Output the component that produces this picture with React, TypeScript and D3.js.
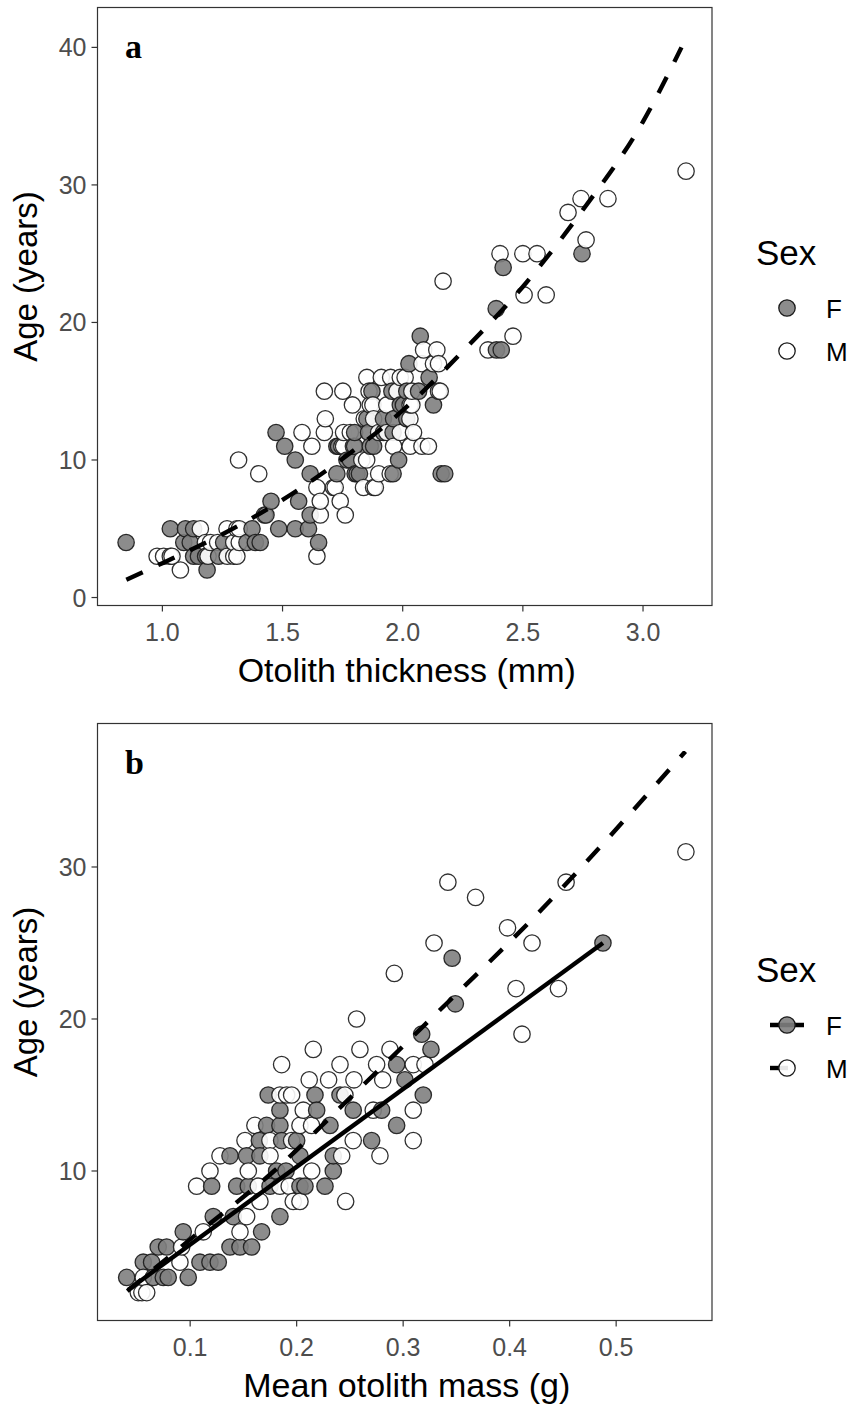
import React from "react";
import * as d3 from "d3";

// ---- data: otolith thickness (mm) vs age (years) ----
const femaleThicknessAge: [number, number][] = [
  [1.186, 2],
  [1.13, 3], [1.15, 3], [1.18, 3], [1.234, 3],
  [0.849, 4], [1.089, 4], [1.116, 4], [1.255, 4], [1.352, 4], [1.387, 4], [1.407, 4], [1.65, 4],
  [1.033, 5], [1.096, 5], [1.13, 5], [1.373, 5], [1.484, 5], [1.553, 5], [1.608, 5],
  [1.431, 6], [1.615, 6],
  [1.452, 7], [1.567, 7],
  [1.615, 9], [1.726, 9], [1.802, 9], [1.81, 9], [1.82, 9], [1.96, 9], [2.16, 9], [2.175, 9],
  [1.553, 10], [1.768, 10], [1.782, 10], [1.983, 10],
  [1.509, 11], [1.726, 11], [1.733, 11], [1.8, 11], [1.865, 11], [1.879, 11],
  [1.473, 12], [1.8, 12], [1.858, 12], [1.92, 12], [1.96, 12],
  [1.851, 13], [1.92, 13], [1.962, 13], [2.017, 13],
  [1.99, 14], [2.003, 14], [2.128, 14],
  [1.872, 15], [1.955, 15], [2.017, 15], [2.066, 15],
  [2.11, 16],
  [2.026, 17],
  [2.39, 18], [2.41, 18],
  [2.073, 19],
  [2.389, 21],
  [2.418, 24],
  [2.746, 25],
];

const maleThicknessAge: [number, number][] = [
  [1.075, 2],
  [0.978, 3], [1.005, 3], [1.033, 3], [1.04, 3], [1.19, 3], [1.27, 3], [1.297, 3], [1.31, 3], [1.643, 3],
  [1.179, 4], [1.2, 4], [1.23, 4], [1.297, 4], [1.32, 4],
  [1.158, 5], [1.269, 5], [1.31, 5], [1.32, 5],
  [1.425, 6], [1.657, 6], [1.761, 6],
  [1.657, 7], [1.74, 7],
  [1.643, 8], [1.712, 8], [1.719, 8], [1.837, 8], [1.879, 8], [1.886, 8],
  [1.401, 9], [1.9, 9], [1.948, 9],
  [1.317, 10], [1.83, 10], [1.85, 10],
  [1.622, 11], [1.747, 11], [1.754, 11], [1.795, 11], [1.962, 11], [2.031, 11], [2.08, 11], [2.107, 11],
  [1.581, 12], [1.674, 12], [1.754, 12], [1.782, 12], [1.9, 12], [1.934, 12], [1.99, 12], [2.045, 12],
  [1.678, 13], [1.84, 13], [1.879, 13], [2.03, 13],
  [1.791, 14], [1.865, 14], [1.876, 14], [1.934, 14], [2.031, 14], [2.038, 14],
  [1.674, 15], [1.751, 15], [1.86, 15], [1.976, 15], [2.038, 15], [2.149, 15], [2.156, 15],
  [1.851, 16], [1.911, 16], [1.95, 16], [1.99, 16], [2.01, 16],
  [2.08, 17], [2.128, 17], [2.149, 17],
  [2.087, 18], [2.142, 18], [2.355, 18],
  [2.459, 19],
  [2.505, 22], [2.597, 22],
  [2.168, 23],
  [2.405, 25], [2.5, 25], [2.559, 25],
  [2.763, 26],
  [2.688, 28],
  [2.742, 29], [2.854, 29],
  [3.179, 31],
];

// fitted age curve over thickness (both sexes)
const thicknessFit: [number, number][] = [
  [0.85, 1.3], [1.0, 2.5], [1.25, 4.6], [1.5, 7.1], [1.75, 10.1], [2.0, 13.6],
  [2.25, 17.9], [2.5, 22.6], [2.75, 28.2], [3.0, 34.6], [3.16, 40.0],
];

// ---- data: mean otolith mass (g) vs age (years) ----
const femaleMassAge: [number, number][] = [
  [0.0404, 3], [0.0654, 3], [0.0748, 3], [0.0794, 3], [0.0982, 3],
  [0.056, 4], [0.0638, 4], [0.1092, 4], [0.1186, 4], [0.1264, 4],
  [0.07, 5], [0.0779, 5], [0.1374, 5], [0.1468, 5], [0.1577, 5],
  [0.0935, 6], [0.1671, 6],
  [0.1217, 7], [0.1405, 7], [0.1843, 7],
  [0.1202, 9], [0.1437, 9], [0.1546, 9], [0.175, 9], [0.2031, 9], [0.2078, 9], [0.2266, 9],
  [0.1812, 10], [0.19, 10], [0.2344, 10],
  [0.1374, 11], [0.153, 11], [0.1655, 11], [0.2031, 11], [0.2344, 11],
  [0.165, 12], [0.1859, 12], [0.2, 12], [0.2704, 12],
  [0.1718, 13], [0.1843, 13], [0.2313, 13], [0.2939, 13],
  [0.1843, 14], [0.2188, 14], [0.2531, 14], [0.2798, 14],
  [0.1733, 15], [0.2172, 15], [0.2407, 15], [0.3189, 15],
  [0.3017, 16],
  [0.2939, 17],
  [0.3261, 18],
  [0.3174, 19],
  [0.349, 21],
  [0.346, 24],
  [0.4876, 25],
];

const maleMassAge: [number, number][] = [
  [0.0513, 2], [0.0547, 2], [0.0592, 2],
  [0.056, 3],
  [0.0904, 4],
  [0.092, 5],
  [0.1123, 6], [0.1468, 6],
  [0.153, 7],
  [0.1655, 8], [0.1968, 8], [0.2031, 8], [0.246, 8],
  [0.1061, 9], [0.164, 9], [0.1843, 9], [0.193, 9],
  [0.1186, 10], [0.1546, 10], [0.2141, 10],
  [0.128, 11], [0.175, 11], [0.2423, 11], [0.2782, 11],
  [0.1515, 12], [0.1749, 12], [0.1953, 12], [0.2531, 12], [0.3095, 12],
  [0.1608, 13], [0.2031, 13], [0.214, 13],
  [0.2062, 14], [0.2719, 14], [0.3095, 14],
  [0.1843, 15], [0.1906, 15], [0.1953, 15], [0.2453, 15],
  [0.2118, 16], [0.23, 16], [0.2538, 16], [0.2808, 16],
  [0.1859, 17], [0.2407, 17], [0.2751, 17], [0.3095, 17], [0.3205, 17],
  [0.2156, 18], [0.2594, 18], [0.2876, 18],
  [0.4116, 19],
  [0.2563, 20],
  [0.406, 22], [0.4458, 22],
  [0.2917, 23],
  [0.329, 25], [0.421, 25],
  [0.398, 26],
  [0.368, 28],
  [0.342, 29], [0.453, 29],
  [0.5655, 31],
];

// fitted age lines over mass, one per sex
const massFitFemale: [number, number][] = [[0.0416, 2.17], [0.4876, 25.0]];
const massFitMale: [number, number][] = [
  [0.041, 2.1], [0.1, 5.5], [0.178, 9.95], [0.25, 14.8], [0.32, 19.6], [0.43, 27.2], [0.565, 37.6],
];

const thicknessTicks = [1.0, 1.5, 2.0, 2.5, 3.0];
const ageTicksA = [0, 10, 20, 30, 40];
const massTicks = [0.1, 0.2, 0.3, 0.4, 0.5];
const ageTicksB = [10, 20, 30];
const sexLevels = ["F", "M"];

const SANS = "'Liberation Sans', Arial, Helvetica, sans-serif";
const FILL: Record<string, string> = { F: "#808080", M: "#ffffff" };
const R = 8.2;

type Pt = { x: number; y: number; sex: string };

function toPts(f: [number, number][], m: [number, number][]): Pt[] {
  const all: Pt[] = [
    ...f.map(([x, y]) => ({ x, y, sex: "F" })),
    ...m.map(([x, y]) => ({ x, y, sex: "M" })),
  ];
  return all.sort((a, b) => a.x - b.x);
}

interface PanelProps {
  top: number;
  bottom: number;
  xDomain: [number, number];
  yDomain: [number, number];
  xTicks: number[];
  yTicks: number[];
  xFormat: (v: number) => string;
  xTitle: string;
  tag: string;
  points: Pt[];
  fits: { data: [number, number][]; dash?: string }[];
}

const LEFT = 97.5;
const RIGHT = 712;

function Panel(p: PanelProps) {
  const x = d3.scaleLinear().domain(p.xDomain).range([LEFT, RIGHT]);
  const y = d3.scaleLinear().domain(p.yDomain).range([p.bottom, p.top]);
  const line = d3
    .line<[number, number]>()
    .x((d) => x(d[0]))
    .y((d) => y(d[1]))
    .curve(d3.curveMonotoneX);
  const midY = (p.top + p.bottom) / 2 - 30;
  const midX = (LEFT + RIGHT) / 2;
  return (
    <g>
      <rect x={LEFT} y={p.top} width={RIGHT - LEFT} height={p.bottom - p.top} fill="#fff" />
      {p.points.map((d, i) => (
        <circle
          key={i}
          cx={x(d.x)}
          cy={y(d.y)}
          r={R}
          fill={FILL[d.sex]}
          fillOpacity={0.9}
          stroke="#1a1a1a"
          strokeOpacity={0.9}
          strokeWidth={1.3}
        />
      ))}
      {p.fits.map((f, i) => (
        <path
          key={i}
          d={line(f.data) || ""}
          fill="none"
          stroke="#000"
          strokeWidth={4.4}
          strokeDasharray={f.dash}
        />
      ))}
      <rect
        x={LEFT}
        y={p.top}
        width={RIGHT - LEFT}
        height={p.bottom - p.top}
        fill="none"
        stroke="#333"
        strokeWidth={1.2}
      />
      {p.xTicks.map((t) => (
        <g key={t}>
          <line x1={x(t)} x2={x(t)} y1={p.bottom} y2={p.bottom + 6} stroke="#333" strokeWidth={1.2} />
          <text x={x(t)} y={p.bottom + 35} textAnchor="middle" fontSize={25} fill="#4d4d4d" fontFamily={SANS}>
            {p.xFormat(t)}
          </text>
        </g>
      ))}
      {p.yTicks.map((t) => (
        <g key={t}>
          <line x1={LEFT - 6} x2={LEFT} y1={y(t)} y2={y(t)} stroke="#333" strokeWidth={1.2} />
          <text x={LEFT - 11} y={y(t) + 9} textAnchor="end" fontSize={25} fill="#4d4d4d" fontFamily={SANS}>
            {t}
          </text>
        </g>
      ))}
      <text x={midX + 2} y={p.bottom + 76} textAnchor="middle" fontSize={34} fill="#000" fontFamily={SANS}>
        {p.xTitle}
      </text>
      <text
        transform={`translate(37,${midY}) rotate(-90)`}
        textAnchor="middle"
        fontSize={33}
        fill="#000"
        fontFamily={SANS}
      >
        Age (years)
      </text>
      <text x={125} y={p.top + 50} fontSize={34} fontWeight="bold" fontFamily="'Liberation Serif', 'Times New Roman', serif">
        {p.tag}
      </text>
    </g>
  );
}

function Legend({ top, withLines }: { top: number; withLines: boolean }) {
  return (
    <g>
      <text x={756} y={top} fontSize={35} fontFamily={SANS}>
        Sex
      </text>
      {sexLevels.map((s, i) => {
        const cy = top + 43 + i * 43;
        return (
          <g key={s}>
            {withLines && (
              <line
                x1={770}
                x2={s === "F" ? 804 : 788}
                y1={cy}
                y2={cy}
                stroke="#000"
                strokeWidth={4.4}
              />
            )}
            <circle cx={787} cy={cy} r={R} fill={FILL[s]} fillOpacity={0.9} stroke="#1a1a1a" strokeWidth={1.3} />
            <text x={826} y={cy + 9.5} fontSize={26} fontFamily={SANS}>
              {s}
            </text>
          </g>
        );
      })}
    </g>
  );
}

export default function App() {
  const ptsA = toPts(femaleThicknessAge, maleThicknessAge);
  const ptsB = toPts(femaleMassAge, maleMassAge);
  return (
    <svg
      width={849}
      height={1404}
      style={{ position: "absolute", left: 0, top: 0, background: "#fff", display: "block" }}
    >
      <rect width={849} height={1404} fill="#fff" />
      <Panel
        top={7.5}
        bottom={605.5}
        xDomain={[0.73, 3.287]}
        yDomain={[-0.58, 42.9]}
        xTicks={thicknessTicks}
        yTicks={ageTicksA}
        xFormat={(v) => v.toFixed(1)}
        xTitle="Otolith thickness (mm)"
        tag="a"
        points={ptsA}
        fits={[{ data: thicknessFit, dash: "18 17" }]}
      />
      <Legend top={265} withLines={false} />
      <Panel
        top={723.5}
        bottom={1320.5}
        xDomain={[0.013, 0.59]}
        yDomain={[0.164, 39.44]}
        xTicks={massTicks}
        yTicks={ageTicksB}
        xFormat={(v) => v.toFixed(1)}
        xTitle="Mean otolith mass (g)"
        tag="b"
        points={ptsB}
        fits={[
          { data: massFitFemale },
          { data: massFitMale, dash: "18 17" },
        ]}
      />
      <Legend top={982} withLines={true} />
    </svg>
  );
}
